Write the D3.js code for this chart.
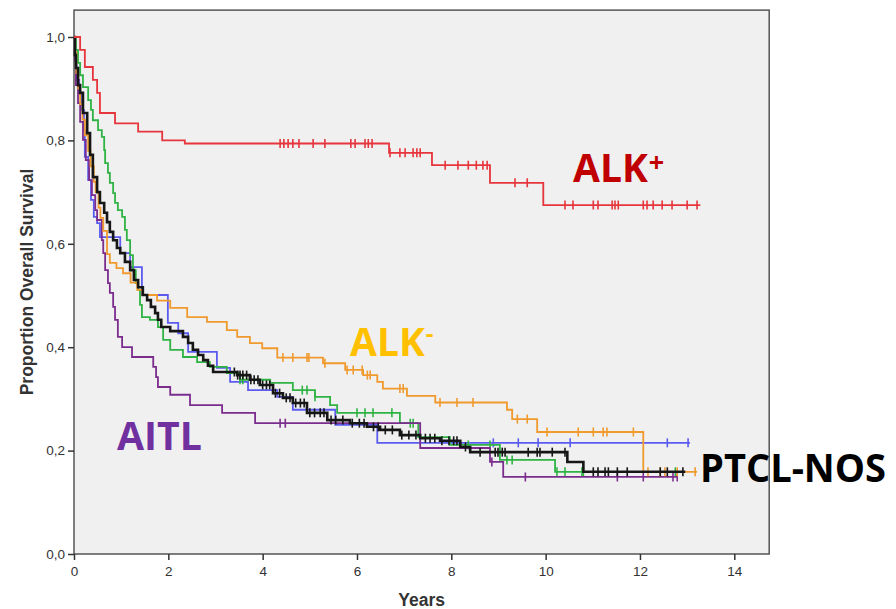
<!DOCTYPE html>
<html>
<head>
<meta charset="utf-8">
<script src="https://cdn.jsdelivr.net/npm/d3@7"></script>
<style>
  body { margin: 0; background: #fff; }
  svg { display: block; }
  .tick text { font-family: Arial, "Liberation Sans", sans-serif; font-size: 13.5px; fill: #333; }
  .axis-title { font-family: Arial, "Liberation Sans", sans-serif; font-weight: bold; font-size: 17.5px; fill: #333; }
  .grp-label { font-family: "Open Sans", "Noto Sans", sans-serif; font-weight: bold; }
</style>
</head>
<body>
<div id="chart"></div>
<script>
var svgWidth = 896;
var svgHeight = 609;

// tick labels
var xTicks = [0, 2, 4, 6, 8, 10, 12, 14];
var yTicks = [0, 0.2, 0.4, 0.6, 0.8, 1.0];

// Kaplan-Meier steps: [years, survival after drop]
var alkPosSteps = [[0.13, 0.975], [0.23, 0.942], [0.40, 0.917], [0.49, 0.892], [0.55, 0.853],
    [0.87, 0.833], [1.36, 0.817], [1.87, 0.800], [2.35, 0.794], [6.68, 0.776], [7.59, 0.752],
    [8.82, 0.718], [9.95, 0.675]];
var alkPosCensor = [4.37, 4.45, 4.54, 4.64, 4.77, 5.07, 5.32, 5.87, 5.96, 6.17, 6.24, 6.32,
    6.70, 6.91, 7.02, 7.19, 7.27, 7.34, 7.87, 8.14, 8.36, 8.53, 8.67, 8.76, 9.35, 9.61,
    10.41, 10.58, 11.01, 11.11, 11.41, 11.47, 11.54, 12.07, 12.15, 12.28, 12.47, 12.68, 13.00, 13.21];
var alkPosEnd = 13.28;

var alkNegSteps = [[0.02, 0.97], [0.05, 0.93], [0.09, 0.90], [0.13, 0.87], [0.18, 0.84],
    [0.23, 0.81], [0.30, 0.78], [0.35, 0.75], [0.42, 0.72], [0.46, 0.70], [0.52, 0.67],
    [0.56, 0.65], [0.62, 0.625], [0.70, 0.58], [0.76, 0.563], [0.90, 0.553], [1.04, 0.543],
    [1.20, 0.525], [1.34, 0.511], [1.45, 0.501], [1.76, 0.490], [2.04, 0.476], [2.40, 0.458],
    [2.82, 0.449], [3.24, 0.433], [3.46, 0.420], [3.73, 0.408], [3.99, 0.398], [4.31, 0.380],
    [5.28, 0.369], [5.75, 0.356], [6.13, 0.346], [6.43, 0.333], [6.55, 0.320], [7.06, 0.306],
    [7.66, 0.293], [9.18, 0.279], [9.29, 0.261], [9.82, 0.236], [12.07, 0.159]];
var alkNegCensor = [4.43, 4.64, 4.94, 4.98, 5.32, 5.79, 5.92, 6.11, 6.22, 6.28, 6.91, 6.98,
    7.76, 8.12, 8.46, 9.40, 9.61, 10.03, 10.69, 11.01, 11.22, 11.30, 11.86,
    12.17, 12.43, 12.53, 12.79, 13.17];
var alkNegEnd = 13.21;

var nkSteps = [[0.04, 0.975], [0.085, 0.950], [0.13, 0.926], [0.19, 0.903], [0.30, 0.878],
    [0.36, 0.859], [0.40, 0.839], [0.51, 0.820], [0.59, 0.807], [0.64, 0.781], [0.66, 0.756],
    [0.72, 0.737], [0.76, 0.718], [0.83, 0.698], [0.87, 0.679], [0.93, 0.665], [1.02, 0.652],
    [1.08, 0.627], [1.12, 0.607], [1.19, 0.578], [1.25, 0.549], [1.31, 0.524], [1.36, 0.511],
    [1.40, 0.482], [1.44, 0.458], [1.61, 0.453], [1.78, 0.439], [1.89, 0.414], [2.04, 0.395],
    [2.31, 0.381], [2.61, 0.371], [2.88, 0.362], [3.24, 0.350], [3.52, 0.337], [4.16, 0.331],
    [4.64, 0.317], [5.11, 0.304], [5.43, 0.288], [5.58, 0.273], [6.91, 0.253], [7.30, 0.226],
    [7.97, 0.211], [9.03, 0.182], [10.20, 0.159]];
var nkCensor = [3.52, 3.58, 4.84, 4.94, 5.11, 6.00, 6.17, 6.34, 6.74, 7.13, 7.19, 8.36, 8.82,
    9.18, 9.29, 10.24, 10.41, 10.77, 10.80, 12.75];
var nkEnd = 12.81;

var eatlSteps = [[0.02, 0.955], [0.06, 0.917], [0.11, 0.892], [0.17, 0.859], [0.21, 0.820],
    [0.23, 0.768], [0.30, 0.723], [0.36, 0.685], [0.42, 0.652], [0.49, 0.640], [0.55, 0.613],
    [0.98, 0.582], [1.19, 0.555], [1.44, 0.501], [1.99, 0.447], [2.21, 0.427], [2.42, 0.391],
    [3.03, 0.360], [3.31, 0.333], [3.69, 0.317], [4.31, 0.304], [4.64, 0.279], [5.54, 0.250],
    [6.43, 0.215]];
var eatlCensor = [8.89, 9.42, 9.84, 10.52, 12.58, 13.02];
var eatlEnd = 13.06;

var aitlSteps = [[0.02, 0.955], [0.04, 0.907], [0.085, 0.872], [0.13, 0.836], [0.19, 0.801],
    [0.25, 0.762], [0.32, 0.723], [0.38, 0.694], [0.45, 0.665], [0.49, 0.646], [0.59, 0.607],
    [0.62, 0.582], [0.66, 0.549], [0.72, 0.524], [0.76, 0.505], [0.83, 0.478], [0.87, 0.453],
    [0.93, 0.420], [1.02, 0.400], [1.23, 0.381], [1.68, 0.362], [1.74, 0.342], [1.78, 0.323],
    [2.04, 0.308], [2.46, 0.288], [3.14, 0.273], [3.84, 0.253], [7.34, 0.205], [8.82, 0.178],
    [9.10, 0.149]];
var aitlCensor = [4.37, 4.48, 8.86, 9.57, 11.52, 12.07, 12.70, 12.79];
var aitlEnd = 12.79;

var nosSteps = [[0.02, 0.965], [0.04, 0.940], [0.085, 0.907], [0.13, 0.892], [0.19, 0.853],
    [0.28, 0.814], [0.34, 0.772], [0.40, 0.729], [0.49, 0.700], [0.55, 0.679], [0.64, 0.660],
    [0.70, 0.642], [0.76, 0.623], [0.83, 0.607], [0.91, 0.592], [0.98, 0.582], [1.08, 0.565],
    [1.19, 0.549], [1.27, 0.530], [1.36, 0.516], [1.46, 0.501], [1.55, 0.491], [1.63, 0.478],
    [1.72, 0.466], [1.78, 0.453], [1.85, 0.439], [2.04, 0.431], [2.31, 0.420], [2.42, 0.408],
    [2.52, 0.395], [2.63, 0.385], [2.74, 0.375], [2.84, 0.364], [2.95, 0.352], [3.46, 0.346],
    [3.73, 0.337], [3.94, 0.327], [4.22, 0.311], [4.43, 0.302], [4.64, 0.292], [4.94, 0.273],
    [5.37, 0.259], [5.85, 0.253], [6.21, 0.246], [6.49, 0.240], [6.91, 0.230], [7.34, 0.224],
    [7.76, 0.219], [8.19, 0.207], [8.40, 0.197], [10.46, 0.178], [10.80, 0.159]];
var nosCensor = [3.40, 3.47, 3.52, 3.58, 3.66, 3.75, 3.82, 3.90, 4.00, 4.08, 4.15, 4.27, 4.36,
    4.50, 4.58, 4.70, 4.80, 4.88, 5.00, 5.10, 5.22, 5.30, 5.45, 5.55, 5.70, 5.90, 6.05, 6.15,
    6.35, 6.45, 6.60, 6.75, 6.95, 7.10, 7.25, 7.45, 7.55, 7.65, 7.80, 7.95, 8.05, 8.12, 8.30,
    8.61, 8.93, 8.99, 9.08, 9.14, 9.63, 9.82, 9.88, 10.14, 10.41, 11.01, 11.11, 11.26, 11.33,
    11.52, 11.73, 12.43, 12.58, 12.91];
var nosEnd = 12.96;

var curves = [
    { steps: eatlSteps, censor: eatlCensor, end: eatlEnd, color: "#5b5bef", width: 1.8 },
    { steps: nkSteps, censor: nkCensor, end: nkEnd, color: "#2fb344", width: 1.8 },
    { steps: aitlSteps, censor: aitlCensor, end: aitlEnd, color: "#7b2d8e", width: 1.8 },
    { steps: alkNegSteps, censor: alkNegCensor, end: alkNegEnd, color: "#f09a2e", width: 1.8 },
    { steps: nosSteps, censor: nosCensor, end: nosEnd, color: "#161616", width: 2.6 },
    { steps: alkPosSteps, censor: alkPosCensor, end: alkPosEnd, color: "#e6353d", width: 1.8 }
];

var svg = d3.select("#chart")
    .append("svg")
    .attr("width", svgWidth)
    .attr("height", svgHeight);

var xLinearScale = d3.scaleLinear().domain([0, 14]).range([74, 734.3]);
var yLinearScale = d3.scaleLinear().domain([0, 1]).range([554, 37]);

// plot frame
svg.append("rect")
    .attr("x", xLinearScale(0))
    .attr("y", yLinearScale(1.052))
    .attr("width", xLinearScale(14.74) - xLinearScale(0))
    .attr("height", yLinearScale(0) - yLinearScale(1.052))
    .attr("fill", "#f0f0f0")
    .attr("stroke", "#555")
    .attr("stroke-width", 1.5);

var bottomAxis = d3.axisBottom(xLinearScale)
    .tickValues(xTicks)
    .tickSize(6)
    .tickSizeOuter(0)
    .tickFormat(d3.format("d"));

var leftAxis = d3.axisLeft(yLinearScale)
    .tickValues(yTicks)
    .tickSize(6)
    .tickSizeOuter(0)
    .tickFormat(d => d3.format(".1f")(d).replace(".", ","));

var xAxis = svg.append("g")
    .attr("transform", `translate(0, ${yLinearScale(0)})`)
    .call(bottomAxis);
xAxis.select(".domain").remove();
xAxis.selectAll("line").attr("stroke", "#333").attr("stroke-width", 1.5);
xAxis.selectAll("text").attr("dy", "0.95em");

var yAxis = svg.append("g")
    .attr("transform", `translate(${xLinearScale(0)}, 0)`)
    .call(leftAxis);
yAxis.select(".domain").remove();
yAxis.selectAll("line").attr("stroke", "#333").attr("stroke-width", 1.5);
yAxis.selectAll("text").attr("x", -9);

// axis titles
svg.append("text")
    .attr("class", "axis-title")
    .attr("x", (xLinearScale(0) + xLinearScale(14.74)) / 2)
    .attr("y", 606)
    .attr("text-anchor", "middle")
    .text("Years");

svg.append("text")
    .attr("class", "axis-title")
    .attr("transform", `translate(33, ${(yLinearScale(0) + yLinearScale(1.052)) / 2}) rotate(-90)`)
    .attr("text-anchor", "middle")
    .text("Proportion Overall Survival");

function survivalAt(steps, t) {
    var s = 1;
    steps.forEach(function (p) { if (p[0] <= t) s = p[1]; });
    return s;
}

var line = d3.line()
    .x(d => xLinearScale(d[0]))
    .y(d => yLinearScale(d[1]))
    .curve(d3.curveStepAfter);

var curvesGroup = svg.append("g");

curves.forEach(function (c) {
    var pts = [[0, 1]].concat(c.steps);
    pts.push([c.end, c.steps[c.steps.length - 1][1]]);

    curvesGroup.append("path")
        .datum(pts)
        .attr("d", line)
        .attr("fill", "none")
        .attr("stroke", c.color)
        .attr("stroke-width", c.width)
        .attr("stroke-linejoin", "miter");

    curvesGroup.append("g").selectAll("line")
        .data(c.censor)
        .enter()
        .append("line")
        .attr("x1", d => xLinearScale(d))
        .attr("x2", d => xLinearScale(d))
        .attr("y1", d => yLinearScale(survivalAt(c.steps, d)) - 4.5)
        .attr("y2", d => yLinearScale(survivalAt(c.steps, d)) + 4.5)
        .attr("stroke", c.color)
        .attr("stroke-width", 1.6);
});

// group labels, superscripts as tspans
var alkPos = svg.append("text").attr("class", "grp-label")
    .attr("x", 573).attr("y", 182)
    .attr("font-size", 39).attr("fill", "#c00000");
alkPos.append("tspan").text("ALK");
alkPos.append("tspan").attr("font-size", 27).attr("dx", 1).attr("dy", -10).text("+");

var alkNeg = svg.append("text").attr("class", "grp-label")
    .attr("x", 350).attr("y", 356)
    .attr("font-size", 39).attr("fill", "#ffc000");
alkNeg.append("tspan").text("ALK");
alkNeg.append("tspan").attr("font-size", 24).attr("dx", 1).attr("dy", -14).text("-");

svg.append("text").attr("class", "grp-label")
    .attr("x", 117).attr("y", 450)
    .attr("font-size", 40).attr("fill", "#7030a0")
    .attr("textLength", 85).attr("lengthAdjust", "spacingAndGlyphs")
    .text("AITL");

svg.append("text").attr("class", "grp-label")
    .attr("x", 700).attr("y", 482)
    .attr("font-size", 39).attr("fill", "#000")
    .attr("textLength", 186).attr("lengthAdjust", "spacingAndGlyphs")
    .text("PTCL-NOS");
</script>
</body>
</html>
